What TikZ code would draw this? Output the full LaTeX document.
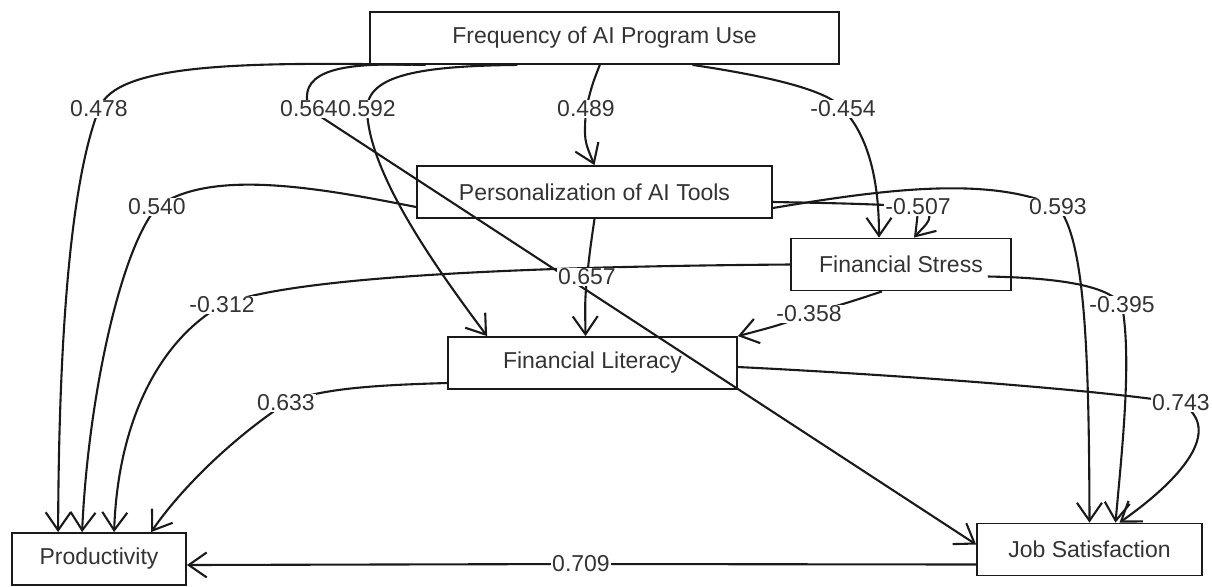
\documentclass[tikz,border=0pt]{standalone}
\usepackage{fontspec}
\setmainfont{Liberation Sans}
\usetikzlibrary{arrows.meta, calc, backgrounds}
\definecolor{CInk}{HTML}{1A1A1A}
\definecolor{CText}{HTML}{333333}

\begin{document}
\begin{tikzpicture}[x=0.5pt, y=-0.5pt,
    var/.style={draw=CInk, line width=0.9pt, text=CText, font=\fontsize{11.5}{14}\selectfont, minimum height=26pt, inner sep=0pt},
    coef/.style={fill=white, text=CText, inner sep=0.6pt, font=\fontsize{11.5}{14}\selectfont},
    link/.style={draw=CInk, line width=1.05pt, -{Straight Barb[length=9pt, width=12.5pt]}}]
    \useasboundingbox (0,0) rectangle (1212,586);

    % Variables
    \node[var, minimum width=234.5pt] (freq) at (604.5,38) {Frequency of AI Program Use};
    \node[var, minimum width=177.5pt] (pers) at (594.5,192) {Personalization of AI Tools};
    \node[var, minimum width=110pt] (stress) at (901,264.5) {Financial Stress};
    \node[var, minimum width=144.5pt] (lit) at (592.5,363) {Financial Literacy};
    \node[var, minimum width=87pt] (prod) at (99,559) {Productivity};
    \node[var, minimum width=112.5pt] (job) at (1089.5,549.5) {Job Satisfaction};

    % Path coefficients
    \node[coef] (c478) at (99,109) {0.478};
    \node[coef] (c564) at (309,109) {0.564};
    \node[coef] (c592) at (367,109) {0.592};
    \node[coef] (c489) at (586,109) {0.489};
    \node[coef] (c454) at (843,109) {-0.454};
    \node[coef] (c540) at (157,207) {0.540};
    \node[coef] (c507) at (918,207) {-0.507};
    \node[coef] (c593) at (1058,207) {0.593};
    \node[coef] (c657) at (587,277) {0.657};
    \node[coef] (c312) at (222,305) {-0.312};
    \node[coef] (c358) at (809,314) {-0.358};
    \node[coef] (c395) at (1122,305) {-0.395};
    \node[coef] (c633) at (286,403) {0.633};
    \node[coef] (c743) at (1181,403) {0.743};
    \node[coef] (c709) at (581,564) {0.709};

    \begin{scope}[on background layer]
    % From Frequency of AI Program Use
    \draw[link] ($(freq.south west)!0.12!(freq.south east)$) .. controls (250,62) and (115,62) .. (c478.center) .. controls (75,170) and (59,300) .. ($(prod.north west)+(47,0)$);
    \draw[link] ($(freq.south west)!0.09!(freq.south east)$) .. controls (330,62) and (298,75) .. (c564.center) -- ($(job.west)+(0,-5)$);
    \draw[link] ($(freq.south west)!0.315!(freq.south east)$) .. controls (420,66) and (368,75) .. (c592.center) .. controls (368,170) and (430,260) .. ($(lit.north west)+(40,0)$);
    \draw[link] ($(freq.south west)!0.49!(freq.south east)$) .. controls (592,85) .. (c489.center) .. controls (584,140) .. (pers.north);
    \draw[link] ($(freq.south west)!0.687!(freq.south east)$) .. controls (780,78) and (830,92) .. (c454.center) .. controls (872,140) and (879,190) .. ($(stress.north)+(-22,0)$);

    % From Personalization of AI Tools
    \draw[link] ($(pers.west)+(0,15)$) .. controls (320,188) and (210,168) .. (c540.center) .. controls (120,250) and (88,400) .. ($(prod.north west)+(71,0)$);
    \draw[link] (pers.south) .. controls (590,250) .. (c657.center) .. controls (585,300) .. ($(lit.north)+(-7,0)$);
    \draw[link] ($(pers.east)+(0,10)$) .. controls (830,203) and (880,204) .. (c507.center) .. controls (940,215) and (925,225) .. ($(stress.north)+(13,0)$);
    \draw[link] ($(pers.east)+(0,16)$) .. controls (880,190) and (990,175) .. (c593.center) .. controls (1085,240) and (1089,350) .. (job.north);

    % From Financial Stress
    \draw[link] (stress.west) .. controls (600,266) and (300,272) .. (c312.center) .. controls (160,340) and (118,420) .. ($(prod.north west)+(103,0)$);
    \draw[link] ($(stress.south)+(-19,0)$) .. controls (850,302) .. (c358.center) .. controls (780,325) .. (lit.north east);
    \draw[link] ($(stress.east)+(-24,12)$) .. controls (1070,278) and (1110,288) .. (c395.center) .. controls (1132,360) and (1122,450) .. ($(job.north)+(26,0)$);

    % From Financial Literacy
    \draw[link] ($(lit.west)+(0,20)$) .. controls (380,385) and (320,388) .. (c633.center) .. controls (230,440) and (180,490) .. ($(prod.north west)+(140,0)$);
    \draw[link] ($(lit.east)+(0,4)$) .. controls (900,375) and (1100,390) .. (c743.center) .. controls (1225,430) and (1180,480) .. ($(job.north)+(30,0)$);

    % From Job Satisfaction
    \draw[link] ($(job.west)+(0,15)$) -- (c709.center) -- ($(prod.east)+(0,6)$);
    \end{scope}
\end{tikzpicture}
\end{document}
